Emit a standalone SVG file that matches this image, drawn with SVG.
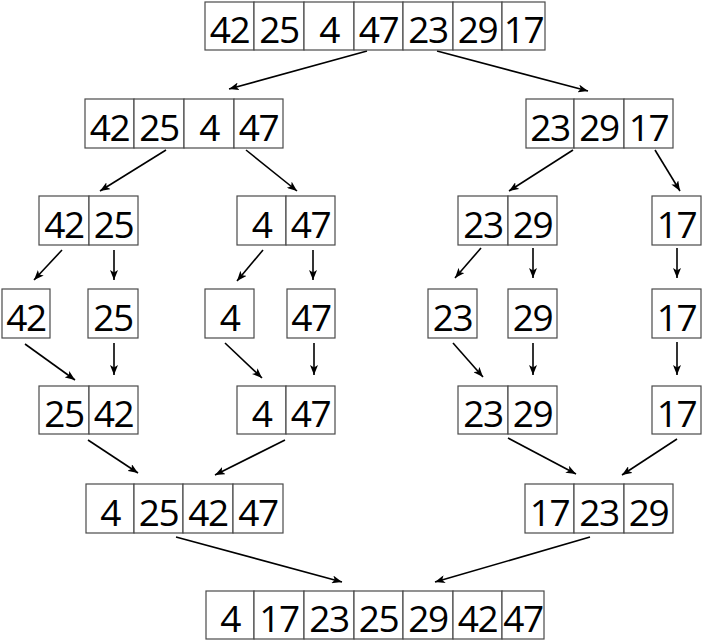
<svg xmlns="http://www.w3.org/2000/svg" width="702" height="642" viewBox="0 0 702 642">
<defs>
<style>
.c{fill:#fff;stroke:#4a4a4a;stroke-width:1.2}
.t{font-family:"Open Sans","Liberation Sans",sans-serif;font-size:37px;letter-spacing:-1.5px;fill:#000;text-anchor:middle}
.a{stroke:#000;stroke-width:1.6;fill:none;marker-end:url(#ah)}
</style>
<marker id="ah" markerWidth="10" markerHeight="8" refX="10" refY="4" orient="auto" markerUnits="userSpaceOnUse">
<path d="M0,0 L10,4 L0,8 L2.5,4 z" fill="#000"/>
</marker>
</defs>
<rect width="702" height="642" fill="#fff"/>

<g id="connectors">
<line class="a" x1="367" y1="51" x2="229" y2="89"/>
<line class="a" x1="437" y1="51" x2="588" y2="91"/>
<line class="a" x1="166" y1="150" x2="100" y2="191"/>
<line class="a" x1="246" y1="150" x2="297" y2="191"/>
<line class="a" x1="573" y1="150" x2="509" y2="191"/>
<line class="a" x1="655" y1="150" x2="680" y2="191"/>
<line class="a" x1="62" y1="250" x2="34" y2="280"/>
<line class="a" x1="114" y1="250" x2="114" y2="280"/>
<line class="a" x1="263" y1="250" x2="237" y2="281"/>
<line class="a" x1="313" y1="250" x2="313" y2="280"/>
<line class="a" x1="481" y1="248" x2="455" y2="278"/>
<line class="a" x1="533" y1="248" x2="533" y2="278"/>
<line class="a" x1="677" y1="248" x2="677" y2="278"/>
<line class="a" x1="25" y1="344" x2="75" y2="380"/>
<line class="a" x1="114" y1="343" x2="114" y2="375"/>
<line class="a" x1="225" y1="343" x2="262" y2="378"/>
<line class="a" x1="314" y1="343" x2="314" y2="375"/>
<line class="a" x1="453" y1="343" x2="483" y2="377"/>
<line class="a" x1="533" y1="343" x2="533" y2="375"/>
<line class="a" x1="677" y1="342" x2="677" y2="375"/>
<line class="a" x1="88" y1="440" x2="138" y2="473"/>
<line class="a" x1="285" y1="440" x2="215" y2="475"/>
<line class="a" x1="508" y1="438" x2="576" y2="474"/>
<line class="a" x1="677" y1="439" x2="622" y2="475"/>
<line class="a" x1="176" y1="537" x2="342" y2="582"/>
<line class="a" x1="590" y1="537" x2="435" y2="582"/>
</g>

<g id="n-root">
<rect class="c" x="205" y="2" width="49" height="48"/><rect class="c" x="254" y="2" width="50" height="48"/><rect class="c" x="304" y="2" width="50" height="48"/><rect class="c" x="354" y="2" width="49" height="48"/><rect class="c" x="403" y="2" width="50" height="48"/><rect class="c" x="453" y="2" width="49" height="48"/><rect class="c" x="502" y="2" width="43" height="48"/>
<text class="t" x="229.5" y="43">42</text><text class="t" x="279" y="43">25</text><text class="t" x="329" y="43">4</text><text class="t" x="378.5" y="43">47</text><text class="t" x="428" y="43">23</text><text class="t" x="477.5" y="43">29</text><text class="t" x="523.5" y="43">17</text>
</g>

<g id="n-l2a">
<rect class="c" x="85" y="99" width="49" height="49"/><rect class="c" x="134" y="99" width="50" height="49"/><rect class="c" x="184" y="99" width="50" height="49"/><rect class="c" x="234" y="99" width="49" height="49"/>
<text class="t" x="109.5" y="141">42</text><text class="t" x="159" y="141">25</text><text class="t" x="209" y="141">4</text><text class="t" x="258.5" y="141">47</text>
</g>

<g id="n-l2b">
<rect class="c" x="526" y="99" width="48" height="49"/><rect class="c" x="574" y="99" width="50" height="49"/><rect class="c" x="624" y="99" width="49" height="49"/>
<text class="t" x="550" y="141">23</text><text class="t" x="599" y="141">29</text><text class="t" x="648.5" y="141">17</text>
</g>

<g id="n-l3a">
<rect class="c" x="39" y="196" width="50" height="49"/><rect class="c" x="89" y="196" width="49" height="49"/>
<text class="t" x="64" y="238">42</text><text class="t" x="113.5" y="238">25</text>
</g>
<g id="n-l3b">
<rect class="c" x="237" y="196" width="49" height="49"/><rect class="c" x="286" y="196" width="49" height="49"/>
<text class="t" x="261.5" y="238">4</text><text class="t" x="310.5" y="238">47</text>
</g>
<g id="n-l3c">
<rect class="c" x="458" y="196" width="50" height="49"/><rect class="c" x="508" y="196" width="49" height="49"/>
<text class="t" x="483" y="238">23</text><text class="t" x="532.5" y="238">29</text>
</g>
<g id="n-l3d">
<rect class="c" x="652" y="196" width="49" height="49"/>
<text class="t" x="676.5" y="238">17</text>
</g>

<g id="n-l4a"><rect class="c" x="2" y="289" width="48" height="49"/><text class="t" x="26" y="331">42</text></g>
<g id="n-l4b"><rect class="c" x="88" y="289" width="50" height="49"/><text class="t" x="113" y="331">25</text></g>
<g id="n-l4c"><rect class="c" x="205" y="289" width="49" height="49"/><text class="t" x="229.5" y="331">4</text></g>
<g id="n-l4d"><rect class="c" x="287" y="289" width="48" height="49"/><text class="t" x="311" y="331">47</text></g>
<g id="n-l4e"><rect class="c" x="428" y="289" width="49" height="49"/><text class="t" x="452.5" y="331">23</text></g>
<g id="n-l4f"><rect class="c" x="508" y="289" width="49" height="49"/><text class="t" x="532.5" y="331">29</text></g>
<g id="n-l4g"><rect class="c" x="652" y="289" width="49" height="49"/><text class="t" x="676.5" y="331">17</text></g>

<g id="n-l5a">
<rect class="c" x="39" y="386" width="50" height="48"/><rect class="c" x="89" y="386" width="49" height="48"/>
<text class="t" x="64" y="427">25</text><text class="t" x="113.5" y="427">42</text>
</g>
<g id="n-l5b">
<rect class="c" x="237" y="386" width="49" height="48"/><rect class="c" x="286" y="386" width="49" height="48"/>
<text class="t" x="261.5" y="427">4</text><text class="t" x="310.5" y="427">47</text>
</g>
<g id="n-l5c">
<rect class="c" x="458" y="386" width="50" height="48"/><rect class="c" x="508" y="386" width="49" height="48"/>
<text class="t" x="483" y="427">23</text><text class="t" x="532.5" y="427">29</text>
</g>
<g id="n-l5d">
<rect class="c" x="652" y="386" width="49" height="48"/>
<text class="t" x="676.5" y="427">17</text>
</g>

<g id="n-l6a">
<rect class="c" x="86" y="484" width="48" height="49"/><rect class="c" x="134" y="484" width="49" height="49"/><rect class="c" x="183" y="484" width="50" height="49"/><rect class="c" x="233" y="484" width="50" height="49"/>
<text class="t" x="110" y="526">4</text><text class="t" x="158.5" y="526">25</text><text class="t" x="208" y="526">42</text><text class="t" x="258" y="526">47</text>
</g>
<g id="n-l6b">
<rect class="c" x="525" y="484" width="49" height="49"/><rect class="c" x="574" y="484" width="50" height="49"/><rect class="c" x="624" y="484" width="49" height="49"/>
<text class="t" x="549.5" y="526">17</text><text class="t" x="599" y="526">23</text><text class="t" x="648.5" y="526">29</text>
</g>

<g id="n-sorted">
<rect class="c" x="206" y="591" width="48" height="48"/><rect class="c" x="254" y="591" width="50" height="48"/><rect class="c" x="304" y="591" width="50" height="48"/><rect class="c" x="354" y="591" width="49" height="48"/><rect class="c" x="403" y="591" width="50" height="48"/><rect class="c" x="453" y="591" width="49" height="48"/><rect class="c" x="502" y="591" width="42" height="48"/>
<text class="t" x="230" y="632">4</text><text class="t" x="279" y="632">17</text><text class="t" x="329" y="632">23</text><text class="t" x="378.5" y="632">25</text><text class="t" x="428" y="632">29</text><text class="t" x="477.5" y="632">42</text><text class="t" x="523" y="632">47</text>
</g>
</svg>
